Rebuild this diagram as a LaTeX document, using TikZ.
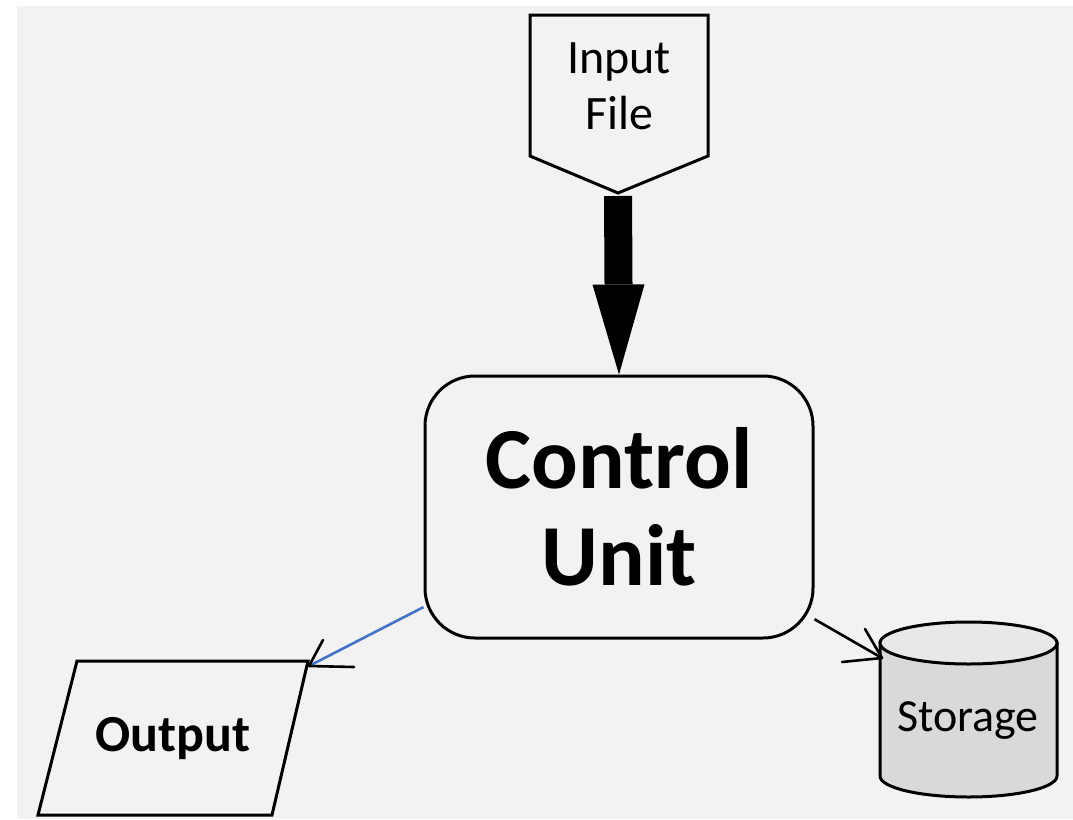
\documentclass[tikz,border=0pt]{standalone}
\usepackage{fontspec}
\setmainfont{Carlito}
\usetikzlibrary{arrows.meta}
\definecolor{canvas}{HTML}{F2F2F2}
\definecolor{cylbody}{HTML}{D9D9D9}
\definecolor{cyltop}{HTML}{E8E8E8}
\definecolor{linkblue}{HTML}{4472C4}
\tikzset{
  outline/.style={draw=black, line width=3pt, line join=miter},
  ctrlbox/.style={draw=black, line width=3pt, rounded corners=50pt,
    minimum width=388pt, minimum height=262pt, inner sep=0pt, align=center,
    font=\fontsize{87}{97}\selectfont\bfseries},
  labelsmall/.style={inner sep=0pt, align=center, font=\fontsize{48}{56}\selectfont},
  labelbold/.style={inner sep=0pt, font=\fontsize{52}{56}\selectfont\bfseries},
  link/.style={line width=2.6pt},
  barb/.style={line width=2.6pt, draw=black, line cap=round}
}
\begin{document}
\begin{tikzpicture}[x=1pt, y=-1pt]
\useasboundingbox (0,0) rectangle (1073,819);
\fill[white] (0,0) rectangle (1073,819);
\fill[canvas] (17,6) rectangle (1073,819);

% input file (off-page connector shape)
\coordinate (inptip) at (618,193);
\draw[outline] (530,15) -- (708,15) -- (708,156) -- (inptip) -- (530,156) -- cycle;
\node[labelsmall] (inp) at (619,86) {Input\\File};

% central processing box
\node[ctrlbox] (ctrl) at (619,507) {Control\\Unit};

% heavy input arrow
\draw[line width=28pt, shorten <=3pt,
  -{Triangle[length=90pt,width=52pt,line width=0pt]}] (inptip) -- (ctrl.north);

% output parallelogram
\draw[outline] (77,661) -- (308,661) -- (272,815) -- (38,815) -- cycle;
\node[labelbold] (outp) at (173,739) {Output};
\coordinate (outtip) at (309,666);

% storage cylinder
\draw[outline, fill=cylbody] (880,643) -- (880,776)
  arc[start angle=180, end angle=0, x radius=88.5, y radius=21]
  -- (1057,643) -- cycle;
\draw[outline, fill=cyltop] (968.5,643) ellipse[x radius=88.5, y radius=21];
\node[labelsmall, font=\fontsize{46}{56}\selectfont] (stor) at (968,721) {Storage};
\coordinate (stortip) at (882,658);

% connectors
\draw[link, draw=linkblue] (ctrl) -- (outtip);
\draw[barb] (outtip) -- ++(14,-26) (outtip) -- ++(45,1);
\draw[link] (ctrl) -- (stortip);
\draw[barb] (stortip) -- ++(-17,-29) (stortip) -- ++(-40,4);
\end{tikzpicture}
\end{document}
